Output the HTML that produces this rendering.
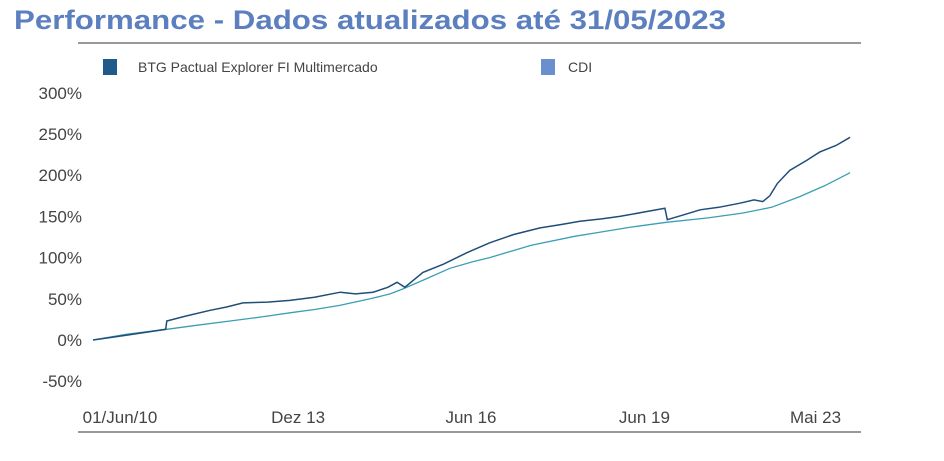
<!DOCTYPE html>
<html><head><meta charset="utf-8">
<style>
body{margin:0;background:#fff;width:944px;height:461px;overflow:hidden;font-family:"Liberation Sans",sans-serif}
svg{display:block}
</style></head><body>
<svg id="chart" width="944" height="461" xmlns="http://www.w3.org/2000/svg">
<text x="14" y="29" font-size="27" font-weight="bold" fill="#5b7fbf" font-family="Liberation Sans, sans-serif" textLength="712" lengthAdjust="spacingAndGlyphs">Performance - Dados atualizados até 31/05/2023</text>
<line x1="78" y1="43" x2="861" y2="43" stroke="#999" stroke-width="2"/>
<g>
<rect x="103" y="59" width="14" height="16" fill="#1f5a8a"/>
<text x="138" y="72" font-size="14" fill="#444">BTG Pactual Explorer FI Multimercado</text>
<rect x="541" y="59" width="14" height="16" fill="#6a8fcf"/>
<text x="568" y="72" font-size="14" fill="#444">CDI</text>
</g>
<g id="yaxis"></g>
<g id="xaxis"></g>
<line x1="78" y1="432" x2="861" y2="432" stroke="#999" stroke-width="2"/>
<g id="series"></g>
</svg>
<script>
const yTicks=[300,250,200,150,100,50,0,-50];
const xTickLabels=["01/Jun/10","Dez 13","Jun 16","Jun 19","Mai 23"];
const xTickDates=[2010.88,2013.92,2016.87,2019.83,2022.75];
const fundDates=[2010.42,2011.0,2011.66,2011.68,2012.0,2012.42,2012.7,2012.98,2013.4,2013.78,2014.2,2014.64,2014.9,2015.2,2015.45,2015.61,2015.74,2016.05,2016.4,2016.8,2017.19,2017.6,2018.05,2018.4,2018.73,2019.1,2019.41,2019.8,2020.18,2020.22,2020.5,2020.78,2021.1,2021.46,2021.7,2021.85,2021.97,2022.1,2022.31,2022.6,2022.82,2023.1,2023.34];
const fundValues=[0,6,13,23,29,36,40,45,46,48,52,58,56,58,64,70,64,82,92,106,118,128,136,140,144,147,150,155,160,146,152,158,161,166,170,168,175,190,206,218,228,236,246];
const cdiDates=[2010.42,2011.0,2011.68,2012.2,2012.76,2013.3,2013.78,2014.2,2014.63,2015.15,2015.49,2015.71,2016.1,2016.51,2016.9,2017.19,2017.9,2018.65,2019.0,2019.6,2020.22,2020.9,2021.5,2022.0,2022.48,2022.9,2023.34];
const cdiValues=[0,7,13,18,23,28,33,37,42,50,56,62,74,87,95,100,115,126,130,137,143,148,154,161,174,187,203];
const NS="http://www.w3.org/2000/svg";
const X=d=>93+(d-2010.42)*58.6;
const Y=v=>340-v*41.2/50;
function mk(t,a,p){const e=document.createElementNS(NS,t);for(const k in a)e.setAttribute(k,a[k]);p.appendChild(e);return e;}
const ya=document.getElementById('yaxis');
yTicks.forEach(v=>{const t=mk('text',{x:82,y:Y(v)+6,'text-anchor':'end','font-size':17,fill:'#444'},ya);


t.textContent=v+'%';});
const xa=document.getElementById('xaxis');
xTickLabels.forEach((l,i)=>{const t=mk('text',{x:X(xTickDates[i]),y:423,'text-anchor':'middle','font-size':17,fill:'#444'},xa);


t.textContent=l;});
const s=document.getElementById('series');
function line(ds,vs,c,w,name){const p=mk('path',{d:ds.map((d,i)=>(i?'L':'M')+X(d).toFixed(1)+','+Y(vs[i]).toFixed(1)).join(''),fill:'none',stroke:c,'stroke-width':w},s);

}
line(cdiDates,cdiValues,'#3a9fb3',1.3,'cdi-line');
line(fundDates,fundValues,'#1f4e79',1.5,'fund-line');
</script>
</body></html>
